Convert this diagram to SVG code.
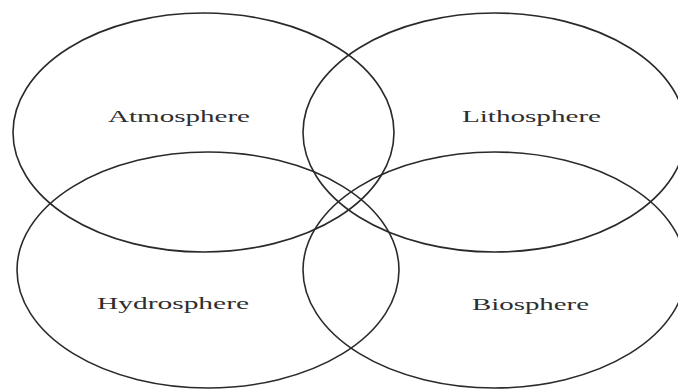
<svg xmlns="http://www.w3.org/2000/svg" width="678" height="389" viewBox="0 0 678 389">
<style>
.e{fill:none;stroke:#2a2a2a;stroke-width:1.6}
.t{font-family:"Liberation Serif","Times New Roman",serif;font-size:17px;fill:#2e2e2e}
</style>
<rect width="678" height="389" fill="#fff"/>
<g id="atmosphere"><ellipse class="e" cx="203.5" cy="132.5" rx="190.5" ry="119.5"/><text class="t" x="108" y="122" textLength="142" lengthAdjust="spacingAndGlyphs">Atmosphere</text></g>
<g id="lithosphere"><ellipse class="e" cx="494.5" cy="132.5" rx="191.5" ry="119.5"/><text class="t" x="462" y="122" textLength="139" lengthAdjust="spacingAndGlyphs">Lithosphere</text></g>
<g id="hydrosphere"><ellipse class="e" cx="208" cy="270" rx="191" ry="118"/><text class="t" x="97" y="309" textLength="152" lengthAdjust="spacingAndGlyphs">Hydrosphere</text></g>
<g id="biosphere"><ellipse class="e" cx="494.5" cy="270" rx="191.5" ry="118"/><text class="t" x="472" y="310" textLength="117" lengthAdjust="spacingAndGlyphs">Biosphere</text></g>
<g id="connectors"></g>
</svg>
